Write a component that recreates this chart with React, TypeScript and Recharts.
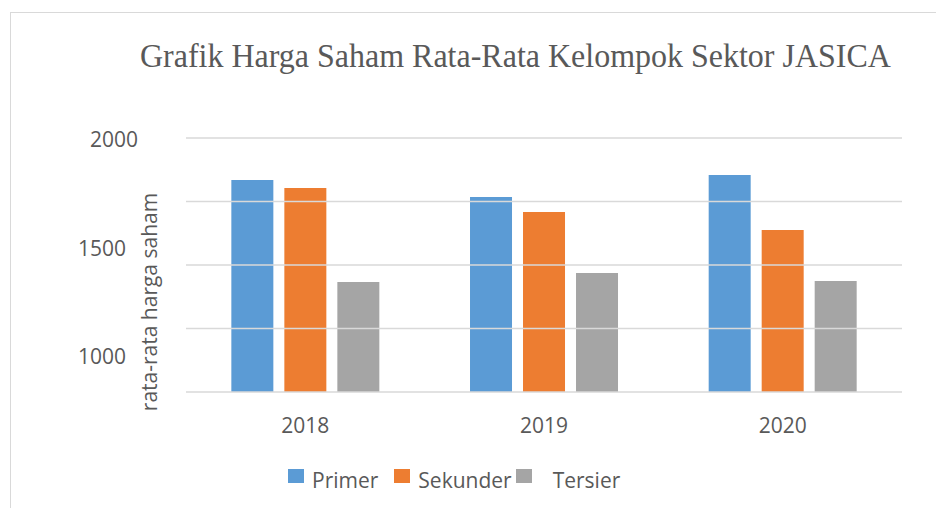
import React from 'react'
import {
    BarChart,
    Bar,
    XAxis,
    YAxis,
    ReferenceLine,
    Legend,
} from 'recharts'

const years = ['2018', '2019', '2020']
const primer = [1817, 1738, 1840]
const sekunder = [1780, 1669, 1586]
const tersier = [1347, 1388, 1351]
const yTicks = [1000, 1500, 2000]
const gridValues = [840, 1132.5, 1425, 1717.5, 2010]

const data = years.map((year, i) => ({
    year,
    Primer: primer[i],
    Sekunder: sekunder[i],
    Tersier: tersier[i],
}))

const font = '"Open Sans", sans-serif'
const textColor = '#595959'
const fs = 21

const series = [
    { key: 'Primer', color: '#5B9BD5' },
    { key: 'Sekunder', color: '#ED7D31' },
    { key: 'Tersier', color: '#A5A5A5' },
]

const YTick = (props: any) => (
    <text
        x={props.payload.value === 2000 ? 138 : 126}
        y={props.y}
        dy={7}
        textAnchor="end"
        fill={textColor}
        fontSize={fs}
        fontFamily={font}
    >
        {props.payload.value}
    </text>
)

const XTick = (props: any) => (
    <text
        x={props.x}
        y={433}
        textAnchor="middle"
        fill={textColor}
        fontSize={fs}
        fontFamily={font}
    >
        {props.payload.value}
    </text>
)

const renderLegend = () => (
    <div
        style={{
            display: 'flex',
            alignItems: 'center',
            paddingLeft: 288,
            fontFamily: font,
            fontSize: fs,
            color: textColor,
        }}
    >
        {series.map((s, i) => (
            <div key={s.key} style={{ display: 'flex', alignItems: 'center', marginRight: i === 1 ? 4 : 16 }}>
                <span
                    style={{
                        width: 16,
                        height: 14,
                        background: s.color,
                        display: 'inline-block',
                        marginRight: i === 2 ? 21 : 8,
                        marginTop: -8,
                    }}
                />
                <span>{s.key}</span>
            </div>
        ))}
    </div>
)

export default function App() {
    return (
        <div style={{ position: 'absolute', left: 0, top: 0, width: 936, height: 508, background: '#fff', overflow: 'hidden' }}>
            <div
                style={{
                    position: 'absolute',
                    left: 10,
                    top: 12,
                    right: -2,
                    bottom: -2,
                    borderTop: '1.5px solid #d9d9d9',
                    borderLeft: '1.5px solid #d9d9d9',
                }}
            />
            <svg width={936} height={100} style={{ position: 'absolute', left: 0, top: 0 }}>
                <text
                    x={0}
                    y={0}
                    transform="translate(140 67) scale(1 1.07)"
                    fill={textColor}
                    fontSize={32}
                    fontFamily='"Liberation Serif", "Times New Roman", serif'
                >
                    Grafik Harga Saham Rata-Rata Kelompok Sektor JASICA
                </text>
            </svg>
            <div style={{ position: 'absolute', left: 0, top: 0 }}>
                <BarChart
                    width={936}
                    height={508}
                    data={data}
                    margin={{ top: 138, right: 34, left: 0, bottom: 86 }}
                    barCategoryGap="19%"
                    barGap={11}
                >
                    <XAxis
                        dataKey="year"
                        axisLine={false}
                        tickLine={false}
                        height={30}
                        tick={XTick}
                    />
                    <YAxis
                        width={186}
                        domain={[840, 2010]}
                        ticks={yTicks}
                        allowDataOverflow
                        axisLine={false}
                        tickLine={false}
                        tick={YTick}
                        label={{
                            content: () => (
                                <text
                                    x={157}
                                    y={302}
                                    transform="rotate(-90 157 302)"
                                    textAnchor="middle"
                                    fill={textColor}
                                    fontSize={fs}
                                    fontFamily={font}
                                >
                                    rata-rata harga saham
                                </text>
                            ),
                        }}
                    />
                    {gridValues.map((g) => (
                        <ReferenceLine
                            key={g}
                            y={g}
                            stroke="#d9d9d9"
                            strokeWidth={1.5}
                            ifOverflow="visible"
                        />
                    ))}
                    <Legend
                        layout="horizontal"
                        verticalAlign="middle"
                        align="center"
                        content={renderLegend}
                        wrapperStyle={{ left: 0, top: 466, width: 936 }}
                    />
                    {series.map((s) => (
                        <Bar
                            key={s.key}
                            dataKey={s.key}
                            fill={s.color}
                            isAnimationActive={false}
                        />
                    ))}
                </BarChart>
            </div>
        </div>
    )
}
